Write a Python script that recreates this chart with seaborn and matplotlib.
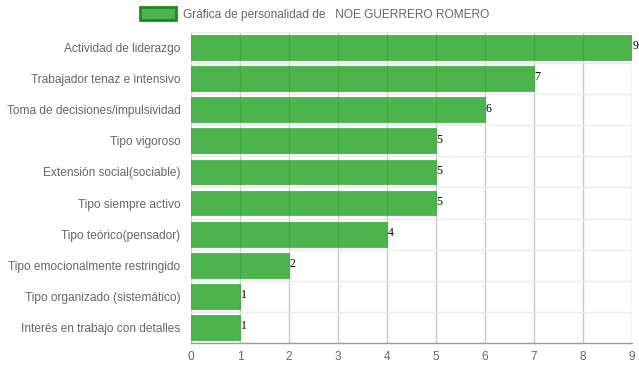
import matplotlib
matplotlib.use("Agg")
import matplotlib.pyplot as plt
import seaborn as sns
import pandas as pd
from matplotlib.patches import Patch

categories = [
    "Actividad de liderazgo",
    "Trabajador tenaz e intensivo",
    "Toma de decisiones/impulsividad",
    "Tipo vigoroso",
    "Extensión social(sociable)",
    "Tipo siempre activo",
    "Tipo teórico(pensador)",
    "Tipo emocionalmente restringido",
    "Tipo organizado (sistemático)",
    "Interés en trabajo con detalles",
]
values = [9, 7, 6, 5, 5, 5, 4, 2, 1, 1]
x_ticks = [0, 1, 2, 3, 4, 5, 6, 7, 8, 9]
legend_label = "Gráfica de personalidad de   NOE GUERRERO ROMERO"

df = pd.DataFrame({"cat": categories, "val": values})

sns.set_theme(style="white")
plt.rcParams["font.family"] = ["Liberation Sans", "DejaVu Sans"]

fig = plt.figure(figsize=(6.39, 3.72), dpi=100)
ax = fig.add_axes([191 / 639, 1 - 343 / 372, (632 - 191) / 639, (343 - 32) / 372])

bar_color = (31 / 255, 162 / 255, 31 / 255, 0.8)
sns.barplot(data=df, y="cat", x="val", orient="h", color=bar_color, width=0.8,
            saturation=1, ax=ax, zorder=2)
for p in ax.patches:
    p.set_facecolor(bar_color)
    p.set_edgecolor(bar_color)
    p.set_linewidth(0.5)

ax.set_xlim(0, 9)
ax.set_ylim(len(categories) - 0.5, -0.5)
ax.set_xticks(x_ticks)
ax.set_xticklabels([str(t) for t in x_ticks])
ax.set_xlabel("")
ax.set_ylabel("")

# grid
for t in x_ticks:
    ax.axvline(t, color="#c8c8c8", lw=1, zorder=1)
for i in range(len(categories) + 1):
    ax.axhline(i - 0.5, color="#ebebeb", lw=1, zorder=1)

for s in ["top", "right", "left"]:
    ax.spines[s].set_visible(False)
ax.spines["bottom"].set_color("#9a9a9a")
ax.spines["bottom"].set_linewidth(1)
ax.spines["bottom"].set_zorder(3)

ax.tick_params(axis="x", length=5, color="#c8c8c8", labelsize=8.6, labelcolor="#666666", pad=1)
ax.tick_params(axis="y", length=0, labelsize=8.6, labelcolor="#666666", pad=7.5)
ax.set_yticks([i - 0.5 for i in range(len(categories) + 1)], minor=True)
ax.tick_params(axis="y", which="minor", length=7, color="#ebebeb", direction="out")

for i, v in enumerate(values):
    ax.text(v + 0.01, i - 0.04, str(v), fontsize=8.6, color="black",
            family=["Liberation Serif", "DejaVu Serif"], va="center", ha="left",
            clip_on=False)

handle = Patch(facecolor="#4cb54c", edgecolor="#1e8a1e", linewidth=2)
fig.legend([handle], [legend_label], loc="center", bbox_to_anchor=(314.5 / 639, 1 - 14 / 372),
           frameon=False, fontsize=8.6, handlelength=3.0, handleheight=1.3,
           handletextpad=0.6, labelcolor="#666666")

fig.savefig("out.png", dpi=100)
